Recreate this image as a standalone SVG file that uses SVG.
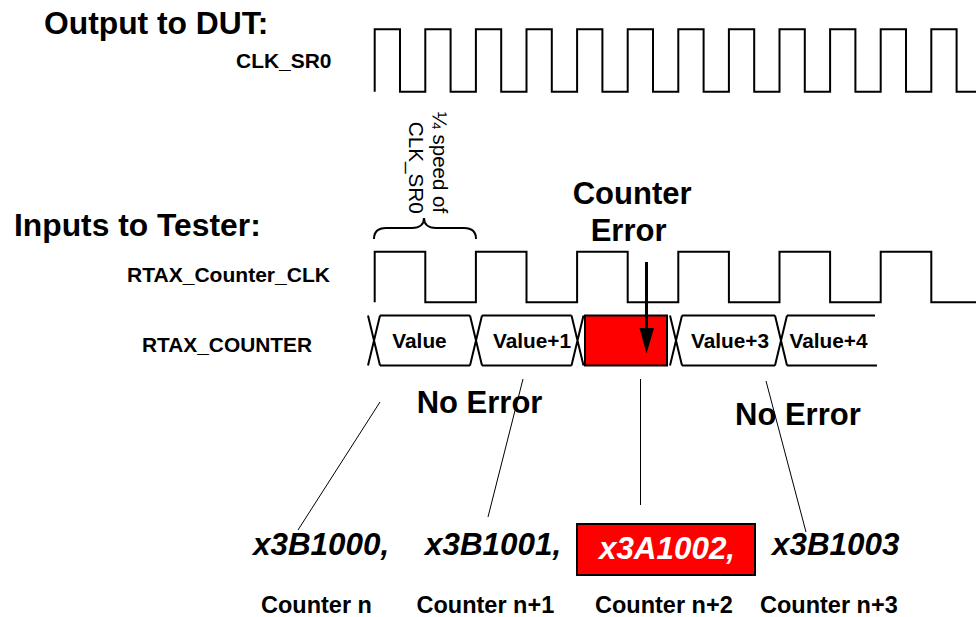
<svg xmlns="http://www.w3.org/2000/svg" width="976" height="617" viewBox="0 0 976 617">
<style>
text{font-family:"Liberation Sans",Arial,sans-serif;fill:#000}
.title{font-size:31.8px;font-weight:bold}
.lbl{font-size:20.5px;font-weight:bold}
.val{font-size:20.8px;font-weight:bold}
.big{font-size:31px;font-weight:bold}
.hex{font-size:31.4px;font-weight:bold;font-style:italic}
.cnt{font-size:23.5px;font-weight:bold}
.rot{font-size:21px}
.wave{fill:none;stroke:#000;stroke-width:2}
.lead{fill:none;stroke:#000;stroke-width:1}
</style>
<rect width="976" height="617" fill="#fff"/>
<g id="titles">
<text class="title" x="44" y="33.5">Output to DUT:</text>
<text class="title" x="14" y="236">Inputs to Tester:</text>
</g>
<g id="clk_sr0">
<text class="lbl" x="236" y="67.5" textLength="95.5" lengthAdjust="spacingAndGlyphs">CLK_SR0</text>
<path class="wave" d="M374.7,91.7 V29.3 H400 V91.7 H425.3 V29.3 H450.6 V91.7 H475.9 V29.3 H501.2 V91.7 H526.5 V29.3 H551.8 V91.7 H577.1 V29.3 H602.4 V91.7 H627.7 V29.3 H653 V91.7 H678.3 V29.3 H703.6 V91.7 H728.9 V29.3 H754.2 V91.7 H779.5 V29.3 H804.8 V91.7 H830.1 V29.3 H855.4 V91.7 H880.7 V29.3 H906 V91.7 H931.3 V29.3 H956.6 V91.7 H976"/>
</g>
<g id="speed_note">
<path class="wave" d="M374,239 C374,231 378,228 386,228 L412,228 C420,228 424,224 424,218 C424,224 428,228 436,228 L464,228 C472,228 476,231 476,239"/>
<text class="rot" transform="translate(432.5,111.7) rotate(90)" textLength="101.5" lengthAdjust="spacingAndGlyphs">¼ speed of</text>
<text class="rot" transform="translate(408.6,121.7) rotate(90)" textLength="92" lengthAdjust="spacingAndGlyphs">CLK_SR0</text>
</g>
<g id="counter_clk">
<text class="lbl" x="127" y="281.7" textLength="203" lengthAdjust="spacingAndGlyphs">RTAX_Counter_CLK</text>
<path class="wave" d="M374.7,302.3 V251.7 H425.3 V302.3 H475.9 V251.7 H526.5 V302.3 H577.1 V251.7 H627.7 V302.3 H678.3 V251.7 H728.9 V302.3 H779.5 V251.7 H830.1 V302.3 H880.7 V251.7 H931.3 V302.3 H976"/>
</g>
<g id="counter_bus">
<text class="lbl" x="142" y="351.7" textLength="170" lengthAdjust="spacingAndGlyphs">RTAX_COUNTER</text>
<path class="wave" d="M368,315.5 L380,365.5 M368,365.5 L380,315.5 M380,315.5 H470 M380,365.5 H470 M470,315.5 L482,365.5 M470,365.5 L482,315.5 M482,315.5 H571.5 M482,365.5 H571.5 M571.5,315.5 L583.5,365.5 M571.5,365.5 L583.5,315.5 M670,315.5 L682,365.5 M670,365.5 L682,315.5 M682,315.5 H775 M682,365.5 H775 M775,315.5 L787,365.5 M775,365.5 L787,315.5 M787,315.5 H875 M787,365.5 H877"/>
<rect x="585" y="315.5" width="82" height="50" fill="#ff0000" stroke="#000" stroke-width="2"/>
<text class="val" x="419.5" y="347.5" text-anchor="middle">Value</text>
<text class="val" x="532" y="347.5" text-anchor="middle">Value+1</text>
<text class="val" x="730" y="347.5" text-anchor="middle">Value+3</text>
<text class="val" x="828.5" y="347.5" text-anchor="middle">Value+4</text>
</g>
<g id="counter_error">
<text class="big" x="572.7" y="204.3">Counter</text>
<text class="big" x="590.7" y="241">Error</text>
</g>
<g id="no_error_1"><text class="big" x="416.7" y="412.7">No Error</text></g>
<g id="no_error_2"><text class="big" x="735" y="425">No Error</text></g>
<g id="connectors">
<line x1="646.5" y1="262" x2="646.5" y2="332" stroke="#000" stroke-width="3"/>
<polygon points="639.5,328 654,328 646.5,353.5" fill="#000"/>
<line class="lead" x1="380" y1="402" x2="298" y2="530"/>
<line class="lead" x1="523" y1="379" x2="488" y2="517"/>
<line class="lead" x1="640.5" y1="379" x2="640.5" y2="505"/>
<line class="lead" x1="766" y1="381" x2="806" y2="532"/>
</g>
<g id="value_0"><text class="hex" x="253" y="555">x3B1000,</text><text class="cnt" x="261" y="613">Counter n</text></g>
<g id="value_1"><text class="hex" x="425" y="555">x3B1001,</text><text class="cnt" x="416.5" y="613">Counter n+1</text></g>
<g id="value_2"><rect x="577" y="524" width="178" height="51" fill="#ff0000" stroke="#000" stroke-width="2"/><text class="hex" x="667" y="559" text-anchor="middle" style="fill:#fff">x3A1002,</text><text class="cnt" x="595" y="613">Counter n+2</text></g>
<g id="value_3"><text class="hex" x="772" y="555">x3B1003</text><text class="cnt" x="760" y="613">Counter n+3</text></g>
</svg>
